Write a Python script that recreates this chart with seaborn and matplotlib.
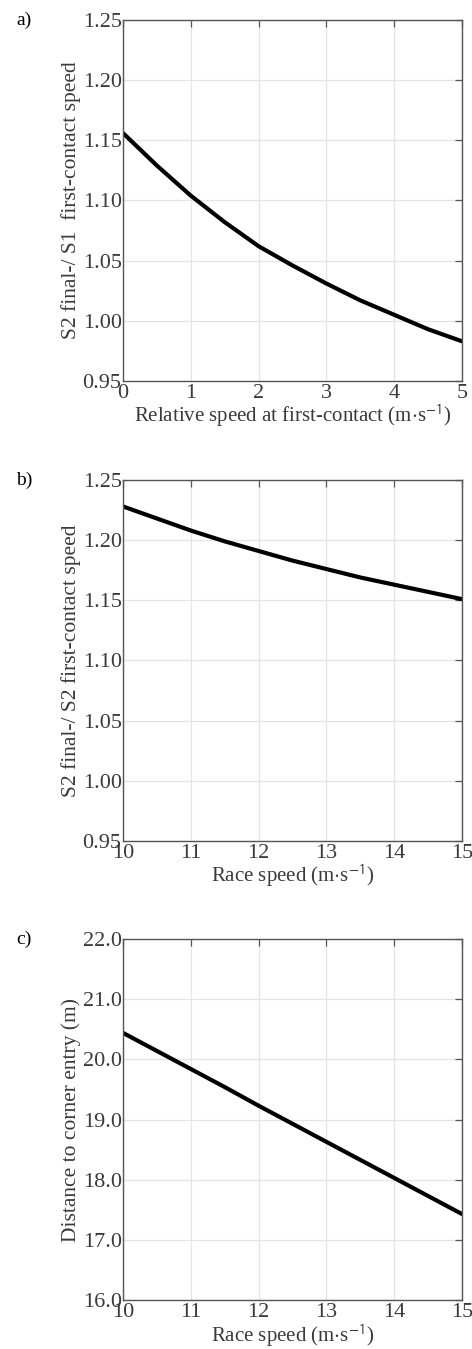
import numpy as np
import pandas as pd
import matplotlib
matplotlib.use("Agg")
import matplotlib.pyplot as plt
import seaborn as sns
from matplotlib.ticker import FormatStrFormatter

# Datos
rel_speed = [0, 0.5, 1, 1.5, 2, 2.5, 3, 3.5, 4, 4.5, 5]
ratio_s1 = [1.156, 1.129, 1.104, 1.082, 1.062, 1.046, 1.031, 1.017, 1.005, 0.993, 0.983]

race_speed = [10, 10.5, 11, 11.5, 12, 12.5, 13, 13.5, 14, 14.5, 15]
ratio_s2 = [1.228, 1.218, 1.208, 1.199, 1.191, 1.183, 1.176, 1.169, 1.163, 1.157, 1.151]
dist_corner = [20.44, 20.14, 19.84, 19.54, 19.23, 18.93, 18.63, 18.33, 18.03, 17.73, 17.43]

sns.set_theme(style="whitegrid")
plt.rcParams["font.family"] = ["Liberation Serif", "DejaVu Serif"]
plt.rcParams["mathtext.fontset"] = "stix"

txt = "#3a3a3a"
fig = plt.figure(figsize=(4.72, 13.49), dpi=100)

paneles = [
    ("a)", rel_speed, ratio_s1, (0.2606, 0.7176, 0.718, 0.2676),
     "Relative speed at first-contact (m$\\cdot$s$^{\\mathsf{-1}}$)",
     "S2 final-/ S1  first-contact speed", (0, 5), (0.95, 1.25), 0.05, "%.2f"),
    ("b)", race_speed, ratio_s2, (0.2606, 0.3766, 0.718, 0.2676),
     "Race speed (m$\\cdot$s$^{\\mathsf{-1}}$)",
     "S2 final-/ S2 first-contact speed", (10, 15), (0.95, 1.25), 0.05, "%.2f"),
    ("c)", race_speed, dist_corner, (0.2606, 0.0363, 0.718, 0.2676),
     "Race speed (m$\\cdot$s$^{\\mathsf{-1}}$)",
     "Distance to corner entry (m)", (10, 15), (16.0, 22.0), 1.0, "%.1f"),
]

for etiqueta, x, y, pos, xlab, ylab, xlim, ylim, paso, fmt in paneles:
    ax = fig.add_axes(pos)
    df = pd.DataFrame({"x": x, "y": y})
    sns.lineplot(data=df, x="x", y="y", ax=ax, color="black", linewidth=3.0)
    ax.set_xlim(*xlim)
    ax.set_ylim(*ylim)
    ax.set_xticks(np.arange(xlim[0], xlim[1] + 0.5, 1))
    ax.set_yticks(np.arange(ylim[0], ylim[1] + paso / 2, paso))
    ax.yaxis.set_major_formatter(FormatStrFormatter(fmt))
    ax.grid(True, color="#e4e4e4", linewidth=0.9)
    for s in ax.spines.values():
        s.set_color("#555555")
        s.set_linewidth(1.0)
    ax.tick_params(direction="in", length=5, width=0.9, color="#555555",
                   top=True, right=True, labelsize=16, labelcolor=txt, pad=1)
    ax.tick_params(axis="x", pad=2)
    ax.set_xlabel(xlab, fontsize=15, color=txt, labelpad=0)
    ax.set_ylabel(ylab, fontsize=15.5, color=txt, labelpad=1)
    fig.text(0.035, pos[1] + pos[3], etiqueta, fontsize=14, color="black",
             ha="left", va="center")

fig.savefig("out.png", dpi=100)
